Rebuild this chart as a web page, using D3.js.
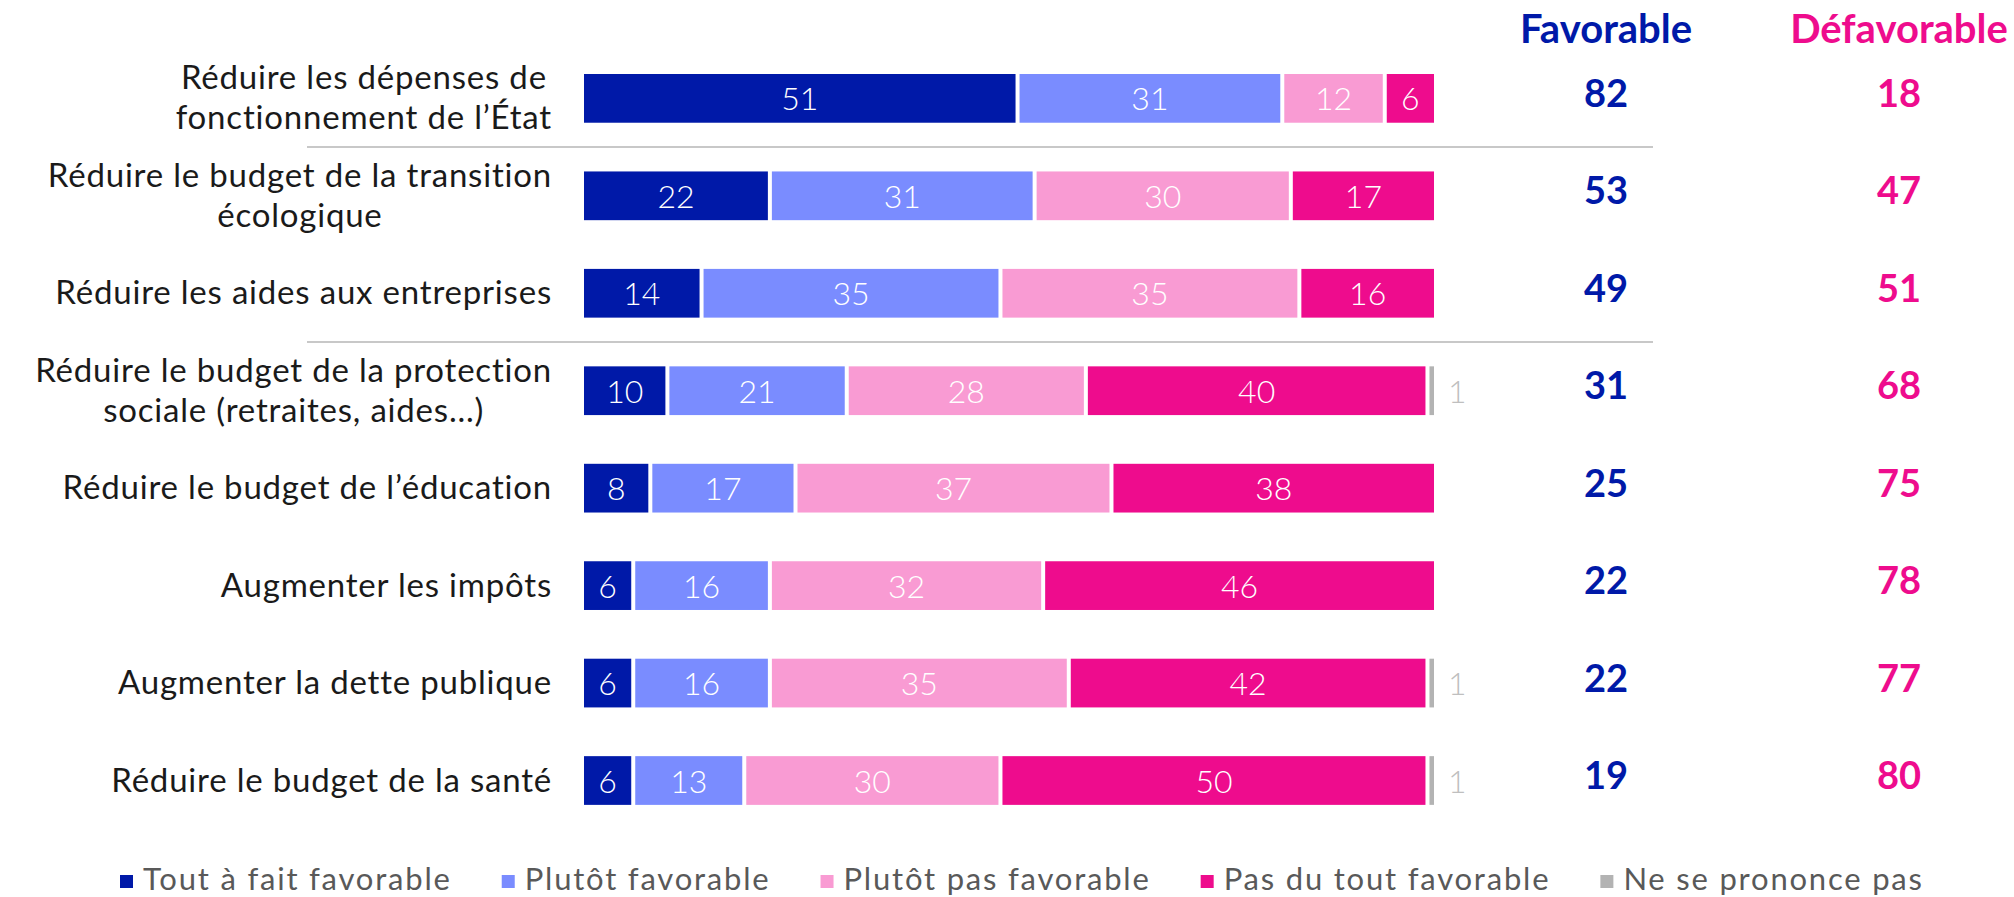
<!DOCTYPE html>
<html>
<head>
<meta charset="utf-8">
<script src="https://cdn.jsdelivr.net/npm/d3@7"></script>
<style>
body{margin:0;background:#fff;}
svg{display:block;font-family:Lato,sans-serif;}
</style>
</head>
<body>
<div id="chart"></div>
<script>
// data
const categories=[
  ["Réduire les dépenses de","fonctionnement de l’État"],
  ["Réduire le budget de la transition","écologique"],
  ["Réduire les aides aux entreprises"],
  ["Réduire le budget de la protection","sociale (retraites, aides…)"],
  ["Réduire le budget de l’éducation"],
  ["Augmenter les impôts"],
  ["Augmenter la dette publique"],
  ["Réduire le budget de la santé"]
];
const toutAFait=[51,22,14,10,8,6,6,6];
const plutotFav=[31,31,35,21,17,16,16,13];
const plutotPas=[12,30,35,28,37,32,35,30];
const pasDuTout=[6,17,16,40,38,46,42,50];
const nsp=[0,0,0,1,0,0,1,1];
const favorable=[82,53,49,31,25,22,22,19];
const defavorable=[18,47,51,68,75,78,77,80];
const seriesNames=["Tout à fait favorable","Plutôt favorable","Plutôt pas favorable","Pas du tout favorable","Ne se prononce pas"];
const colors=["#0019A8","#7A8CFF","#F99BD3","#EE0C8D","#B3B3B3"];
const separatorsAfter=[0,2];

const width=2014,height=897;
const keys=["a","b","c","d","e"];
const table=categories.map((c,i)=>({i:i,a:toutAFait[i],b:plutotFav[i],c:plutotPas[i],d:pasDuTout[i],e:nsp[i]}));
const stacked=d3.stack().keys(keys)(table);

const x=d3.scaleLinear().domain([0,100]).range([582,1436]);
const y=d3.scaleBand().domain(d3.range(categories.length)).range([49.64,49.64+8*97.45]).paddingInner(0.5).paddingOuter(0.25);
const color=d3.scaleOrdinal().domain(keys).range(colors);

const svg=d3.select("#chart").append("svg").attr("width",width).attr("height",height);

// separators
svg.selectAll("line.sep").data(separatorsAfter).enter().append("line")
  .attr("class","sep")
  .attr("x1",307).attr("x2",1653)
  .attr("y1",d=>(y(d)+y.bandwidth()+y(d+1))/2)
  .attr("y2",d=>(y(d)+y.bandwidth()+y(d+1))/2)
  .attr("stroke","#C8C8C8").attr("stroke-width",2);

// bars
const layer=svg.selectAll("g.layer").data(stacked).enter().append("g")
  .attr("class","layer").attr("fill",d=>color(d.key));
layer.selectAll("rect").data(d=>d.filter(p=>p[1]-p[0]>0)).enter().append("rect")
  .attr("x",d=>x(d[0])+2)
  .attr("y",d=>y(d.data.i))
  .attr("width",d=>x(d[1])-x(d[0])-4)
  .attr("height",y.bandwidth());

// labels inside bars
stacked.slice(0,4).forEach(s=>{
  svg.append("g").selectAll("text").data(s).enter().append("text")
    .attr("x",d=>(x(d[0])+x(d[1]))/2)
    .attr("y",d=>y(d.data.i)+y.bandwidth()/2+12)
    .attr("text-anchor","middle")
    .attr("fill","#fff").attr("font-size",32).attr("font-weight",300)
    .text(d=>d[1]-d[0]);
});
// "ne se prononce pas" outside
svg.append("g").selectAll("text").data(stacked[4].filter(d=>d[1]-d[0]>0)).enter().append("text")
  .attr("x",d=>x(d[1])+12)
  .attr("y",d=>y(d.data.i)+y.bandwidth()/2+12)
  .attr("fill","#BFBFBF").attr("font-size",32).attr("font-weight",300)
  .text(d=>d[1]-d[0]);

// category labels, lines centred on each other, block right aligned
const labelRight=552;
categories.forEach((lines,i)=>{
  const g=svg.append("g");
  const cy=y(i)+y.bandwidth()/2;
  const texts=g.selectAll("text").data(lines).enter().append("text")
    .attr("text-anchor","middle")
    .attr("y",(d,j)=>cy+11+(j-(lines.length-1)/2)*40)
    .attr("fill","#1A1A1A").attr("font-size",33).attr("letter-spacing",0.8)
    .text(d=>d);
  let maxW=0;
  texts.each(function(){maxW=Math.max(maxW,this.getComputedTextLength());});
  texts.attr("x",labelRight-maxW/2);
});

// totals
const colFav=1606,colDef=1899;
svg.append("text").attr("x",colFav).attr("y",43).attr("text-anchor","middle")
  .attr("fill","#0019A8").attr("font-size",40).attr("font-weight",700).text("Favorable");
svg.append("text").attr("x",colDef).attr("y",43).attr("text-anchor","middle")
  .attr("fill","#EE0C8D").attr("font-size",40).attr("font-weight",700).text("Défavorable");
svg.append("g").selectAll("text").data(favorable).enter().append("text")
  .attr("x",colFav).attr("y",(d,i)=>y(i)+y.bandwidth()/2+8.5)
  .attr("text-anchor","middle").attr("fill","#0019A8")
  .attr("font-size",38).attr("font-weight",700).text(d=>d);
svg.append("g").selectAll("text").data(defavorable).enter().append("text")
  .attr("x",colDef).attr("y",(d,i)=>y(i)+y.bandwidth()/2+8.5)
  .attr("text-anchor","middle").attr("fill","#EE0C8D")
  .attr("font-size",38).attr("font-weight",700).text(d=>d);

// legend
let lx=120;
seriesNames.forEach((name,i)=>{
  const g=svg.append("g");
  g.append("rect").attr("x",lx).attr("y",875).attr("width",13).attr("height",13).attr("fill",colors[i]);
  const t=g.append("text").attr("x",lx+23).attr("y",890)
    .attr("fill","#595959").attr("font-size",31).attr("letter-spacing",1.8).text(name);
  lx=lx+23+t.node().getComputedTextLength()+50;
});
</script>
</body>
</html>
